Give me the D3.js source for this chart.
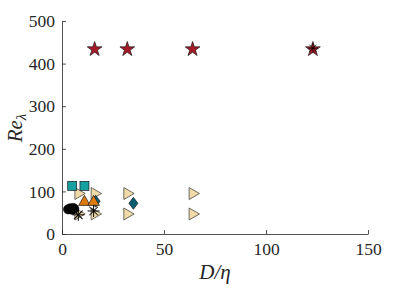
<!DOCTYPE html>
<html><head><meta charset="utf-8">
<script src="https://cdn.jsdelivr.net/npm/d3@7"></script>
<style>body{margin:0;background:#fff}svg{display:block}</style>
</head><body>
<script>
const xTicks = [0, 50, 100, 150];
const yTicks = [0, 100, 200, 300, 400, 500];
const starX = [16, 32, 64, 123];
const starY = [436, 436, 436, 436];
const squareX = [5, 11];
const squareY = [113, 113];
const tanX = [8, 16, 32, 64, 8, 16, 32, 64];
const tanY = [95, 95, 95, 95, 47, 47, 47, 47];
const orangeX = [11, 15.5];
const orangeY = [75, 75];
const diamondX = [16.5, 35];
const diamondY = [77, 72];
const circleX = [3, 4, 5, 6, 5.5];
const circleY = [58, 60, 57, 59, 61];
const asterX = [8, 15.5, 123];
const asterY = [45, 54, 436];

const W = 407, H = 291;
const svg = d3.select("body").append("svg").attr("width", W).attr("height", H);
const x = d3.scaleLinear().domain([0, 150]).range([62, 368]);
const y = d3.scaleLinear().domain([0, 500]).range([234, 21]);
const font = "'Liberation Serif', 'DejaVu Serif', serif";
const axisCol = "#262626";

// axes
const gx = svg.append("g").attr("transform", "translate(0,234)")
  .call(d3.axisBottom(x).tickValues(xTicks).tickSizeInner(-4).tickSizeOuter(0).tickPadding(9));
const gy = svg.append("g").attr("transform", "translate(62,0)")
  .call(d3.axisLeft(y).tickValues(yTicks).tickSizeInner(-4).tickSizeOuter(0).tickPadding(7));
[gx, gy].forEach(g => {
  g.select(".domain").attr("stroke", axisCol).attr("stroke-width", 0.8);
  g.selectAll(".tick line").attr("stroke", axisCol).attr("stroke-width", 0.8);
  g.selectAll(".tick text").attr("fill", "#262626").style("font-family", font).style("font-size", "17.5px");
});
gx.selectAll(".tick text").attr("dy", "0.71em");

// labels
svg.append("text").attr("x", 215).attr("y", 279).attr("text-anchor", "middle")
  .style("font-family", font).style("font-size", "21px").style("font-style", "italic").attr("fill", "#262626")
  .text("D/η");
const yl = svg.append("text").attr("transform", "translate(22,128) rotate(-90)").attr("text-anchor", "middle")
  .style("font-family", font).style("font-size", "21px").style("font-style", "italic").attr("fill", "#262626");
yl.append("tspan").text("Re");
yl.append("tspan").attr("dy", 4).style("font-size", "15px").text("λ");

function zip(a, b) { return a.map((v, i) => [v, b[i]]); }
const edge = "#1a1a1a";

// tan right triangles
svg.selectAll(".tan").data(zip(tanX, tanY)).enter().append("path")
  .attr("d", d3.symbol(d3.symbolTriangle, 62)())
  .attr("transform", d => `translate(${x(d[0])},${y(d[1])}) rotate(90)`)
  .attr("fill", "#f0dba8").attr("stroke", "#333").attr("stroke-width", 0.7);

// squares
svg.selectAll(".sq").data(zip(squareX, squareY)).enter().append("rect")
  .attr("x", d => x(d[0]) - 4.5).attr("y", d => y(d[1]) - 4.5).attr("width", 9).attr("height", 9)
  .attr("fill", "#16a0a0").attr("stroke", edge).attr("stroke-width", 0.7);

// diamonds
svg.selectAll(".dm").data(zip(diamondX, diamondY)).enter().append("path")
  .attr("d", "M0,-6L4.5,0L0,6L-4.5,0Z")
  .attr("transform", d => `translate(${x(d[0])},${y(d[1])})`)
  .attr("fill", "#0b5e72").attr("stroke", edge).attr("stroke-width", 0.7);

// orange triangles
svg.selectAll(".or").data(zip(orangeX, orangeY)).enter().append("path")
  .attr("d", d3.symbol(d3.symbolTriangle, 58)())
  .attr("transform", d => `translate(${x(d[0])},${y(d[1])})`)
  .attr("fill", "#dc7a0a").attr("stroke", edge).attr("stroke-width", 0.7);

// circles
svg.selectAll(".ci").data(zip(circleX, circleY)).enter().append("circle")
  .attr("cx", d => x(d[0])).attr("cy", d => y(d[1])).attr("r", 4.6)
  .attr("fill", "#0a0a0a").attr("stroke", "#000").attr("stroke-width", 0.7);

// stars
svg.selectAll(".st").data(zip(starX, starY)).enter().append("path")
  .attr("d", d3.symbol(d3.symbolStar, 68)())
  .attr("transform", d => `translate(${x(d[0])},${y(d[1]) + 1})`)
  .attr("fill", "#a51c28").attr("stroke", edge).attr("stroke-width", 0.7);

// asterisks
const ast = svg.selectAll(".as").data(zip(asterX, asterY)).enter().append("g")
  .attr("transform", d => `translate(${x(d[0])},${y(d[1])})`);
[0, 45, 90, 135].forEach(a => {
  ast.append("line").attr("x1", d => d[1] > 300 ? -5 : -6).attr("x2", d => d[1] > 300 ? 5 : 6)
    .attr("y1", 0).attr("y2", 0)
    .attr("transform", `rotate(${a})`).attr("stroke", "#000")
    .attr("stroke-width", d => d[1] > 300 ? 0.7 : 1);
});
</script>
</body></html>
